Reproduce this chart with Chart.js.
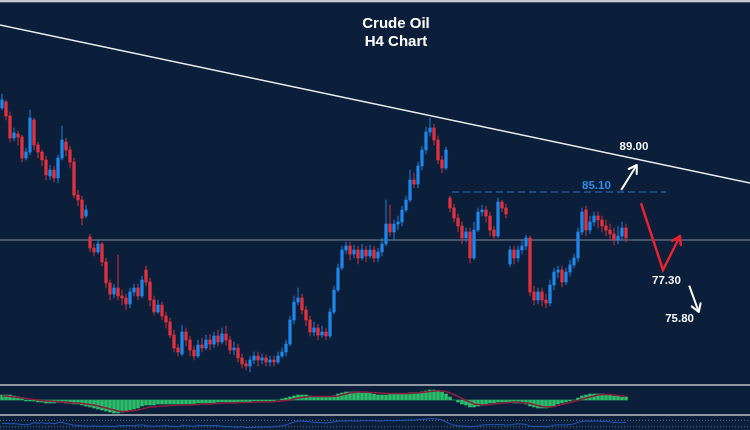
<!DOCTYPE html>
<html>
<head>
<meta charset="utf-8">
<title>Crude Oil H4 Chart</title>
<script src="https://cdn.jsdelivr.net/npm/chart.js@4.4.1/dist/chart.umd.min.js"></script>
<style>
  html, body { margin: 0; padding: 0; background: #0b1f3a; }
  #wrap { position: relative; width: 750px; height: 430px; overflow: hidden; background: #0b1f3a; }
  #wrap canvas { position: absolute; left: 0; }
  #topbar { position: absolute; left: 0; top: 0; width: 750px; height: 2px; background: #c6cad0; border-bottom: 1px solid #4a5363; }
  .sep { position: absolute; left: 0; width: 750px; height: 2px; background: #8e96a2; }
</style>
</head>
<body>
<div id="wrap">
  <canvas id="main" width="750" height="384" style="top:0"></canvas>
  <div class="sep" style="top:384px"></div>
  <canvas id="macd" width="750" height="28" style="top:386px"></canvas>
  <div class="sep" style="top:414px"></div>
  <canvas id="rsi" width="750" height="14" style="top:416px"></canvas>
  <div id="topbar"></div>
</div>
<script>
// H4 candles (USD)
const open = [
  92.1, 92.6, 91.43, 89.6, 89.93, 89.68, 87.93, 88.43, 91.1, 89.02, 88.43, 87.77, 86.43, 86.93, 86.27, 87.93, 89.27, 88.6, 87.6, 84.85,
  84.43, 83.1, 81.35, 80.43, 80.1, 80.77, 79.27, 77.52, 76.6, 77.1, 76.43, 76.27, 75.77, 76.77, 77.1, 76.43, 78.6, 77.6, 76.1, 75.1,
  75.68, 74.77, 74.27, 73.18, 72.1, 71.6, 73.43, 72.77, 71.93, 71.43, 72.35, 72.1, 72.77, 72.43, 73.1, 72.6, 73.27, 72.77, 71.93, 72.1,
  71.27, 70.77, 70.6, 71.1, 71.43, 71.1, 71.27, 70.93, 71.1, 70.93, 71.43, 71.77, 72.43, 74.43, 75.93, 76.27, 75.27, 74.43, 73.43, 73.77,
  73.18, 73.43, 73.1, 75.1, 76.93, 78.77, 80.27, 80.6, 79.93, 80.27, 79.6, 80.27, 79.77, 80.27, 79.6, 80.1, 80.77, 82.43, 81.77, 82.43,
  82.6, 83.6, 84.43, 86.1, 85.77, 87.27, 88.6, 90.1, 90.43, 89.43, 87.77, 87.1, 84.6, 83.77, 82.93, 82.27, 81.27, 81.77, 79.6, 81.93,
  83.43, 83.6, 83.1, 81.93, 81.43, 84.27, 83.77, 79.1, 80.27, 79.6, 80.27, 80.6, 81.27, 76.77, 76.1, 76.77, 76.1, 75.85, 77.35, 78.43,
  78.6, 77.6, 78.43, 79.02, 79.6, 81.77, 83.6, 81.93, 82.6, 83.1, 82.77, 82.27, 81.93, 81.6, 81.1, 81.43, 82.1
];
const high = [
  93.27, 92.77, 91.77, 90.43, 90.18, 89.85, 88.77, 91.93, 91.27, 89.27, 88.6, 88.1, 87.35, 87.27, 88.18, 90.6, 89.6, 88.93, 87.93, 85.27,
  84.77, 84.02, 81.6, 80.77, 81.1, 80.93, 79.6, 77.77, 77.43, 79.85, 76.93, 76.6, 77.1, 77.43, 77.43, 78.1, 78.93, 77.93, 76.43, 76.1,
  75.93, 75.1, 74.6, 73.6, 72.43, 74.02, 73.77, 73.1, 72.27, 72.77, 72.93, 73.18, 73.27, 73.43, 73.6, 73.77, 73.93, 73.1, 72.6, 72.43,
  71.6, 71.1, 71.43, 71.77, 71.77, 71.6, 71.52, 71.43, 71.43, 71.77, 72.1, 72.77, 74.77, 76.43, 77.1, 76.6, 75.6, 74.77, 74.27, 74.1,
  73.93, 73.77, 75.43, 77.27, 79.1, 80.6, 80.93, 80.93, 80.68, 80.6, 80.77, 80.6, 80.68, 80.6, 80.43, 81.27, 84.43, 84.02, 82.77, 83.1,
  83.93, 84.77, 86.93, 86.68, 87.6, 88.93, 90.52, 91.27, 90.77, 89.77, 88.1, 88.85, 84.77, 84.1, 83.27, 82.6, 82.1, 82.1, 82.6, 83.77,
  84.02, 83.93, 83.43, 82.27, 84.6, 84.43, 84.1, 80.6, 80.6, 80.6, 81.1, 81.52, 81.43, 77.27, 77.1, 77.1, 76.6, 77.77, 78.77, 78.93,
  78.93, 78.77, 79.43, 79.93, 82.1, 83.77, 83.93, 83.1, 83.43, 83.43, 83.1, 82.77, 82.43, 82.1, 82.27, 82.6, 82.43
];
const low = [
  91.93, 91.1, 89.27, 89.35, 89.02, 87.6, 87.77, 88.18, 88.6, 87.93, 87.27, 86.1, 86.1, 85.93, 85.85, 87.77, 88.1, 87.1, 84.6, 83.93,
  82.35, 82.93, 80.1, 79.77, 79.93, 78.93, 77.1, 76.1, 76.27, 76.1, 75.68, 75.27, 75.43, 76.43, 76.1, 76.27, 77.27, 75.6, 74.85, 74.93,
  74.43, 73.77, 72.93, 71.77, 71.43, 71.43, 72.27, 71.43, 71.1, 71.27, 71.77, 71.93, 71.93, 72.1, 72.27, 72.43, 72.35, 71.6, 71.52, 70.93,
  70.43, 70.27, 70.1, 70.77, 70.6, 70.77, 70.6, 70.6, 70.6, 70.77, 71.27, 71.43, 72.27, 74.1, 75.68, 74.93, 73.93, 73.1, 73.1, 72.77,
  72.93, 72.77, 72.93, 74.93, 76.77, 78.6, 79.93, 79.43, 79.6, 79.1, 79.43, 79.27, 79.6, 79.27, 79.27, 79.77, 80.6, 81.43, 81.1, 81.93,
  82.27, 83.43, 84.27, 85.43, 85.43, 86.93, 88.27, 89.77, 89.02, 87.43, 86.68, 86.93, 83.43, 82.6, 81.77, 80.77, 80.93, 79.18, 79.43, 81.77,
  83.1, 82.6, 81.43, 81.1, 81.27, 83.43, 82.93, 78.85, 79.1, 79.27, 79.93, 80.27, 76.43, 75.68, 75.77, 75.6, 75.43, 75.6, 76.93, 77.93,
  77.18, 77.35, 78.1, 78.77, 79.27, 81.52, 81.43, 81.6, 82.27, 82.1, 81.77, 81.43, 81.1, 80.68, 80.77, 81.1, 80.93
];
const close = [
  92.77, 91.43, 89.6, 90.02, 89.68, 87.93, 88.43, 91.27, 89.02, 88.43, 87.77, 86.52, 86.93, 86.27, 87.93, 89.43, 88.6, 87.6, 84.85, 84.43,
  82.93, 83.6, 80.43, 80.1, 80.77, 79.27, 77.52, 76.6, 77.1, 76.43, 76.27, 75.77, 76.77, 77.1, 76.43, 77.77, 77.6, 76.1, 75.1, 75.68,
  74.77, 74.27, 73.18, 72.1, 71.77, 73.43, 72.77, 71.93, 71.43, 72.35, 72.1, 72.77, 72.43, 73.1, 72.6, 73.27, 72.77, 71.93, 72.1, 71.27,
  70.77, 70.6, 71.1, 71.43, 71.1, 71.27, 70.93, 71.1, 70.93, 71.43, 71.77, 72.43, 74.43, 75.93, 76.27, 75.27, 74.43, 73.43, 73.77, 73.18,
  73.43, 73.1, 75.1, 76.93, 78.77, 80.27, 80.6, 79.93, 80.27, 79.6, 80.27, 79.77, 80.27, 79.6, 80.1, 80.77, 82.43, 81.77, 82.43, 82.6,
  83.6, 84.43, 86.1, 85.77, 87.27, 88.6, 90.1, 90.43, 89.43, 87.77, 87.1, 88.6, 83.77, 82.93, 82.27, 81.27, 81.77, 79.6, 81.93, 83.43,
  83.6, 83.1, 81.93, 81.43, 84.27, 83.77, 83.27, 80.27, 79.6, 80.27, 80.6, 81.27, 76.77, 76.1, 76.77, 76.1, 75.85, 77.35, 78.43, 78.6,
  77.6, 78.43, 79.02, 79.6, 81.77, 83.43, 81.93, 82.6, 83.1, 82.77, 82.27, 81.93, 81.6, 81.1, 81.43, 82.1, 81.27
];

// MACD panel: histogram and signal line
const macdHist = [
  0.5, 0.5, 0.5, 0.4, 0.3, 0.2, -0.1, -0.1, -0.1, -0.2, -0.2, -0.3, -0.3, -0.3, -0.2, -0.2, -0.3, -0.3, -0.4, -0.4,
  -0.5, -0.6, -0.7, -0.8, -0.9, -1.0, -1.1, -1.2, -1.3, -1.3, -1.2, -1.1, -1.0, -0.9, -0.8, -0.6, -0.5, -0.5, -0.5, -0.4,
  -0.4, -0.4, -0.4, -0.4, -0.4, -0.4, -0.4, -0.4, -0.4, -0.3, -0.3, -0.3, -0.3, -0.3, -0.2, -0.2, -0.2, -0.2, -0.2, -0.2,
  -0.2, -0.2, -0.2, -0.1, -0.1, -0.1, -0.1, -0.1, -0.1, 0, 0.1, 0.2, 0.3, 0.4, 0.5, 0.5, 0.5, 0.4, 0.3, 0.3,
  0.3, 0.3, 0.3, 0.4, 0.6, 0.7, 0.8, 0.8, 0.8, 0.8, 0.7, 0.7, 0.7, 0.6, 0.5, 0.5, 0.5, 0.6, 0.6, 0.6,
  0.6, 0.6, 0.7, 0.7, 0.7, 0.8, 0.9, 1.0, 1.0, 0.9, 0.8, 0.6, 0.3, 0, -0.2, -0.4, -0.5, -0.7, -0.7, -0.6,
  -0.5, -0.4, -0.3, -0.3, -0.2, -0.2, -0.2, -0.2, -0.3, -0.3, -0.3, -0.4, -0.6, -0.7, -0.8, -0.8, -0.8, -0.7, -0.6, -0.4,
  -0.3, -0.2, -0.1, 0, 0.2, 0.4, 0.5, 0.6, 0.6, 0.6, 0.6, 0.5, 0.5, 0.4, 0.4, 0.3, 0.3
];
const macdSignal = [
  0.4, 0.4, 0.35, 0.3, 0.25, 0.2, 0.15, 0.1, 0.05, 0, -0.05, -0.1, -0.1, -0.15, -0.15, -0.2, -0.2, -0.25, -0.3, -0.3,
  -0.35, -0.4, -0.45, -0.5, -0.6, -0.7, -0.8, -0.9, -1.0, -1.1, -1.15, -1.15, -1.1, -1.05, -1.0, -0.9, -0.8, -0.7, -0.7, -0.65,
  -0.6, -0.6, -0.55, -0.55, -0.5, -0.5, -0.5, -0.5, -0.45, -0.45, -0.4, -0.4, -0.4, -0.35, -0.35, -0.3, -0.3, -0.3, -0.3, -0.25,
  -0.25, -0.25, -0.25, -0.2, -0.2, -0.2, -0.2, -0.2, -0.15, -0.15, -0.1, -0.05, 0, 0.1, 0.2, 0.25, 0.3, 0.35, 0.35, 0.35,
  0.35, 0.35, 0.35, 0.35, 0.4, 0.5, 0.6, 0.7, 0.75, 0.8, 0.8, 0.8, 0.75, 0.75, 0.7, 0.7, 0.65, 0.65, 0.65, 0.65,
  0.65, 0.65, 0.65, 0.7, 0.7, 0.75, 0.8, 0.85, 0.9, 0.95, 0.9, 0.85, 0.7, 0.55, 0.35, 0.15, -0.05, -0.2, -0.4, -0.45,
  -0.5, -0.5, -0.45, -0.4, -0.35, -0.3, -0.3, -0.25, -0.2, -0.2, -0.25, -0.3, -0.35, -0.45, -0.55, -0.65, -0.7, -0.7, -0.65, -0.55,
  -0.45, -0.35, -0.25, -0.15, -0.05, 0.1, 0.2, 0.3, 0.4, 0.5, 0.55, 0.55, 0.55, 0.5, 0.45, 0.4, 0.35
];

// bottom oscillator (RSI-like) with its 70 / 30 levels
const rsi = [
  50, 52, 48, 50, 47, 44, 42, 46, 55, 52, 55, 50, 53, 48, 55, 58, 50, 45, 40, 38,
  36, 35, 33, 36, 34, 32, 35, 33, 30, 36, 38, 36, 39, 35, 40, 42, 37, 34, 33, 36,
  35, 38, 34, 32, 30, 40, 37, 35, 33, 38, 37, 39, 36, 38, 37, 33, 30, 31, 28, 27,
  30, 26, 25, 27, 29, 28, 30, 28, 31, 33, 36, 42, 50, 60, 65, 66, 63, 60, 58, 56,
  55, 53, 57, 60, 64, 66, 65, 67, 66, 65, 68, 67, 69, 68, 66, 65, 70, 68, 67, 69,
  68, 70, 72, 71, 74, 76, 78, 80, 79, 77, 74, 60, 48, 40, 36, 34, 33, 30, 32, 35,
  40, 43, 44, 42, 45, 43, 40, 42, 46, 48, 47, 44, 34, 32, 31, 33, 30, 34, 40, 43,
  42, 41, 44, 48, 58, 62, 66, 64, 65, 66, 63, 64, 60, 57, 55, 58, 56
];
const rsiLevels = [70, 30];

// drawn levels and trade plan (bar index, price)
const trendLine = [{ x: -0.5, y: 99.02 }, { x: 187, y: 85.85 }];
const pivotLine = [{ x: -0.5, y: 81.1 }, { x: 187, y: 81.1 }];
const resistLine = [{ x: 112.5, y: 85.1 }, { x: 166, y: 85.1 }];
const upArrow = [{ x: 154.8, y: 85.27 }, { x: 158.7, y: 87.35 }];
const redPath = [{ x: 159.75, y: 84.18 }, { x: 165.25, y: 78.6 }, { x: 169.5, y: 81.43 }];
const downArrow = [{ x: 171.8, y: 77.3 }, { x: 174.2, y: 75.1 }];
const priceNotes = [
  { text: "89.00", x: 158, y: 88.85, color: "#f2f5f8" },
  { text: "85.10", x: 148.6, y: 85.65, color: "#2e8ce8" },
  { text: "77.30", x: 166.1, y: 77.7, color: "#f2f5f8" },
  { text: "75.80", x: 169.4, y: 74.55, color: "#f2f5f8" }
];

const slots = 187;
const UP = "#1f86ea", DOWN = "#e3323f";
const UP_WICK = "rgba(31,134,234,0.55)", DOWN_WICK = "rgba(227,50,63,0.55)";

const isUp = close.map((c, i) => c >= open[i]);
const xAxis = { type: "linear", min: -0.5, max: slots, offset: false, display: false };

const overlayPlugin = {
  id: "overlay",
  afterDatasetsDraw(chart) {
    const ctx = chart.ctx;
    const x = chart.scales.x, y = chart.scales.y;
    ctx.save();
    // arrow heads at the end of marked lines
    chart.data.datasets.forEach((ds, i) => {
      if (!ds.arrowHead) return;
      const pts = chart.getDatasetMeta(i).data;
      const a = pts[pts.length - 2], b = pts[pts.length - 1];
      const ang = Math.atan2(b.y - a.y, b.x - a.x);
      ctx.strokeStyle = ds.borderColor;
      ctx.lineWidth = ds.borderWidth;
      ctx.lineCap = "round";
      ctx.beginPath();
      [-0.55, 0.55].forEach(d => {
        ctx.moveTo(b.x, b.y);
        ctx.lineTo(b.x - 9 * Math.cos(ang + d), b.y - 9 * Math.sin(ang + d));
      });
      ctx.stroke();
    });
    ctx.textAlign = "center";
    ctx.textBaseline = "middle";
    ctx.font = "bold 11.5px 'Liberation Sans', Arial, sans-serif";
    priceNotes.forEach(n => {
      ctx.fillStyle = n.color;
      ctx.fillText(n.text, x.getPixelForValue(n.x), y.getPixelForValue(n.y));
    });
    ctx.fillStyle = "#ffffff";
    ctx.font = "bold 15px 'Liberation Sans', Arial, sans-serif";
    ctx.fillText("Crude Oil", 396, 24);
    ctx.fillText("H4 Chart", 396, 42);
    ctx.restore();
  }
};

const baseOptions = {
  responsive: false,
  animation: false,
  events: [],
  layout: { padding: 0 },
  plugins: { legend: { display: false }, tooltip: { enabled: false } }
};

function lineSet(data, color, width, extra) {
  return Object.assign({
    type: "line", data: data, borderColor: color, borderWidth: width,
    pointRadius: 0, tension: 0, fill: false, order: 1
  }, extra || {});
}

new Chart(document.getElementById("main"), {
  type: "bar",
  data: {
    datasets: [
      lineSet(trendLine, "#e9edf2", 1.5),
      lineSet(resistLine, "#1d5c9c", 1.5, { borderDash: [7, 4] }),
      lineSet(upArrow, "#ffffff", 2, { arrowHead: true }),
      lineSet(redPath, "#e8232f", 2.5, { arrowHead: true }),
      lineSet(downArrow, "#ffffff", 2, { arrowHead: true }),
      {
        label: "body",
        data: open.map((o, i) => ({ x: i, y: [o, close[i]] })),
        backgroundColor: isUp.map(u => (u ? UP : DOWN)),
        barThickness: 2.6, grouped: false, order: 2, borderWidth: 0
      },
      {
        label: "wick",
        data: low.map((l, i) => ({ x: i, y: [l, high[i]] })),
        backgroundColor: isUp.map(u => (u ? UP_WICK : DOWN_WICK)),
        barThickness: 1, grouped: false, order: 3, borderWidth: 0
      },
      lineSet(pivotLine, "rgba(140,150,166,0.6)", 1.5, { order: 4 })
    ]
  },
  options: Object.assign({}, baseOptions, {
    scales: { x: xAxis, y: { min: 69.1, max: 101.1, display: false } }
  }),
  plugins: [overlayPlugin]
});

new Chart(document.getElementById("macd"), {
  type: "bar",
  data: {
    datasets: [
      lineSet(macdSignal.map((v, i) => ({ x: i, y: v })), "#8a1f3f", 1.5),
      {
        data: macdHist.map((v, i) => ({ x: i, y: v })),
        backgroundColor: "#2bbd68", barThickness: 3, grouped: false, order: 2, borderWidth: 0
      }
    ]
  },
  options: Object.assign({}, baseOptions, {
    scales: { x: xAxis, y: { min: -1.4, max: 1.4, display: false } }
  })
});

new Chart(document.getElementById("rsi"), {
  type: "line",
  data: {
    datasets: [
      lineSet(rsi.map((v, i) => ({ x: i, y: v })), "#2356b8", 1)
    ].concat(rsiLevels.map(l =>
      lineSet([{ x: -0.5, y: l }, { x: slots, y: l }], "rgba(120,132,150,0.8)", 1, { borderDash: [1, 2], order: 2 })
    ))
  },
  options: Object.assign({}, baseOptions, {
    scales: { x: xAxis, y: { min: 10, max: 96.7, display: false } }
  })
});
</script>
</body>
</html>
